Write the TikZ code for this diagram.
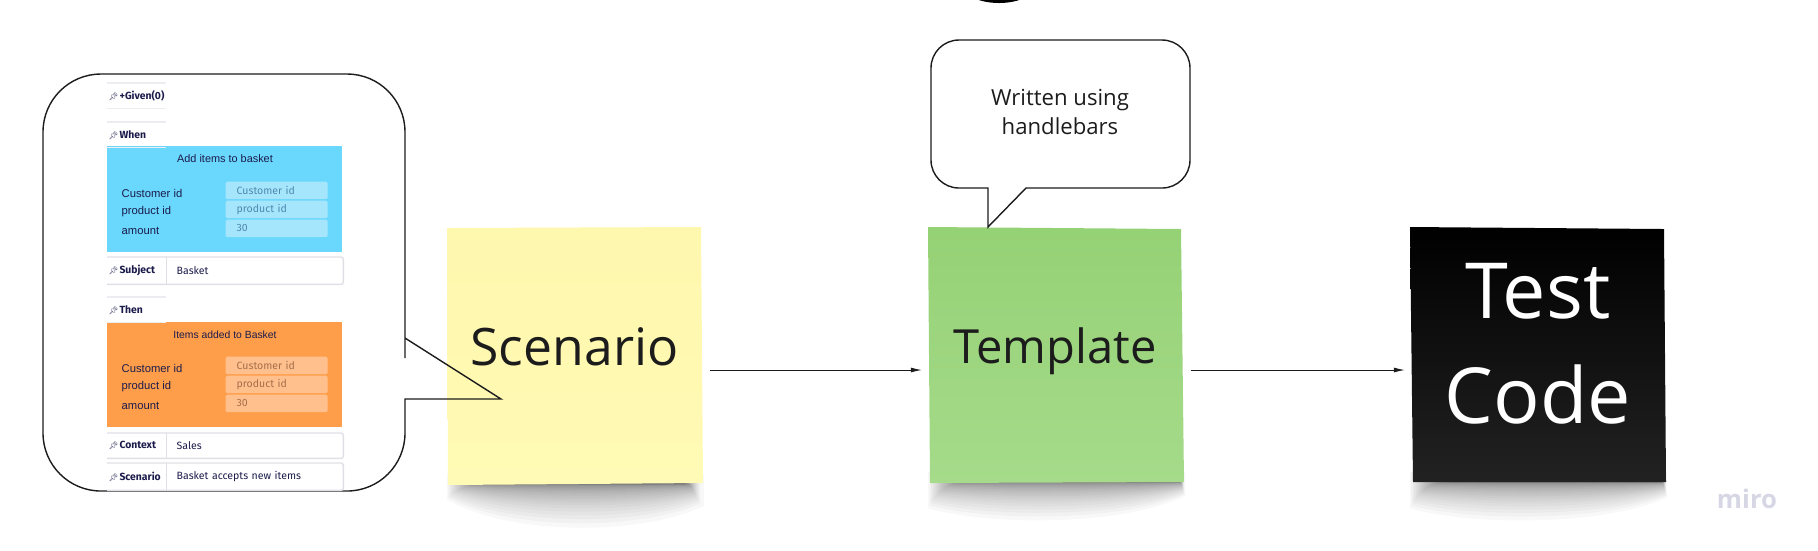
\documentclass[tikz,border=0pt]{standalone}
\usepackage{fontspec}
\usetikzlibrary{arrows.meta}
\setmainfont{Open Sans}
\newfontfamily\panelfont{Liberation Sans}
\newfontfamily\formfont{Fira Sans}
\newfontfamily\pinfont{Noto Emoji}
\definecolor{inkdark}{HTML}{1C1C1C}
\definecolor{formink}{HTML}{1B1B4B}
\definecolor{rowline}{HTML}{DFDFE6}
\definecolor{tabline}{HTML}{ECECF1}
\definecolor{whenblue}{HTML}{6AD7FD}
\definecolor{whenfield}{HTML}{A6E6FD}
\definecolor{whentext}{HTML}{4F88AE}
\definecolor{thenorange}{HTML}{FF9E4A}
\definecolor{thenfield}{HTML}{FFC08E}
\definecolor{thentext}{HTML}{A66E48}
\definecolor{mirogray}{HTML}{D6D6E4}
\definecolor{yellowtop}{HTML}{FEF7AE}
\definecolor{yellowend}{HTML}{FFFAB5}
\definecolor{greentop}{HTML}{95D175}
\definecolor{greenend}{HTML}{A5DB8A}
\definecolor{blackend}{HTML}{222222}
\newcommand{\pinmark}{{\pinfont\fontsize{2.2}{3}\selectfont 📌}\hspace{.01cm}}
% outer left, outer right, core left, core right, top, depth, left part, right part
\newcommand{\notedrop}[8]{%
  \foreach \i in {0,...,29}{%
    \pgfmathsetmacro{\lx}{#1+(#3-#1)*(\i/29)}
    \pgfmathsetmacro{\rx}{#2+(#4-#2)*sqrt(\i/29)}
    \pgfmathsetmacro{\dd}{#6*(1-\i/30)^3.2}
    \pgfmathsetmacro{\wd}{.25*(\rx-\lx)}
    \fill[black,opacity=.027] (\lx,#5-.1) -- (\rx,#5-.1) -- (\rx,#5+#8*\dd) .. controls (\rx-\wd,#5+\dd) and (\lx+\wd,#5+\dd) .. (\lx,#5+#7*\dd) -- cycle;
  }}
\tikzset{
  bigtext/.style={text=inkdark,inner sep=0pt,anchor=base,minimum width=2.7cm,font=\fontsize{14.7}{17}\selectfont},
  flow/.style={draw=inkdark,line width=.25pt,shorten >=-.025cm,-{Latex[length=.11cm,width=.05cm]}},
  bubbleline/.style={draw=inkdark,line width=.4pt},
  tabbox/.style={anchor=north west,minimum width=.58cm,inner sep=.01cm,text width=.56cm,align=left,text=formink,font=\formfont\bfseries\fontsize{2.95}{3.6}\selectfont},
  valuebox/.style={anchor=north west,minimum width=1.77cm,inner xsep=.11cm,inner ysep=0pt,text width=1.55cm,align=left,text=formink,font=\formfont\fontsize{3}{3.6}\selectfont},
  tabedge/.style={draw=tabline,line width=.35pt},
  rowedge/.style={draw=rowline,line width=.4pt,rounded corners=.025cm},
  paneltitle/.style={inner sep=0pt,text=formink,font=\panelfont\fontsize{3.1}{3.6}\selectfont},
  panellabel/.style={inner sep=0pt,anchor=west,text=formink,font=\panelfont\fontsize{3.2}{3.6}\selectfont},
  fieldbox/.style={rounded corners=.015cm,anchor=north west,minimum width=1.02cm,minimum height=.175cm,inner xsep=.11cm,inner ysep=0pt,text width=.8cm,align=left,font=\formfont\fontsize{3}{3.6}\selectfont},
  whenf/.style={fieldbox,fill=whenfield,text=whentext},
  thenf/.style={fieldbox,fill=thenfield,text=thentext},
}
\begin{document}
\begin{tikzpicture}[x=1cm,y=-1cm]
  \useasboundingbox (0,0) rectangle (18.18,5.5);
  \fill[black] (9.99,-.25) ellipse (.45 and .28);
  % Shadows and sticky notes
  \notedrop{4.47}{7.04}{4.90}{6.85}{4.84}{.52}{.3}{.42}
  \notedrop{9.28}{11.85}{9.73}{11.80}{4.82}{.44}{.6}{.32}
  \notedrop{14.10}{16.67}{14.53}{16.62}{4.82}{.44}{.6}{.35}
  \shade[top color=yellowtop,bottom color=yellowend] (4.47,2.28) -- (7.01,2.27) -- (7.03,4.83) -- (4.48,4.85) -- cycle;
  \shade[top color=greentop,bottom color=greenend] (9.28,2.27) -- (11.81,2.29) -- (11.84,4.82) -- (9.30,4.83) -- cycle;
  \shade[top color=black,middle color=black!95!white,bottom color=blackend] (14.10,2.27) -- (16.64,2.29) -- (16.66,4.82) -- (14.13,4.82) -- cycle;
  \node[bigtext] (scenario) at (5.745,3.65) {Scenario};
  \node[bigtext,font=\fontsize{13.4}{17}\selectfont] (template) at (10.55,3.63) {Template};
  \node[bigtext,anchor=center,align=center,text=white,font=\fontsize{22}{29.9}\selectfont] (testcode) at (15.38,3.44) {Test\\Code};
  \coordinate (flowlevel) at (0,3.70);
  \draw[flow] (scenario.east |- flowlevel) -- (template.west |- flowlevel);
  \draw[flow] (template.east |- flowlevel) -- (testcode.west |- flowlevel);
  % Callouts
  \draw[bubbleline,rounded corners=.58cm] (2.2,.74) -- (4.05,.74) -- (4.05,3.0) [sharp corners] -- (4.05,3.38) -- (5.01,3.99) -- (4.05,3.99) -- (4.05,4.3) [rounded corners=.58cm] -- (4.05,4.91) -- (.43,4.91) -- (.43,.74) -- cycle;
  \draw[bubbleline,rounded corners=.28cm] (10.6,.40) -- (11.90,.40) -- (11.90,1.88) [sharp corners] -- (10.26,1.88) -- (9.88,2.27) -- (9.88,1.88) [rounded corners=.28cm] -- (9.31,1.88) -- (9.31,.40) -- cycle;
  \node[text=inkdark,inner sep=0pt,align=center,font=\fontsize{6.3}{8.5}\selectfont] (written) at (10.6,1.12) {Written using\\handlebars};
  % Left-hand side part, the form
  \node[tabbox,minimum height=.24cm] (given) at (1.07,.83) {\pinmark+Given(0)};
  \node[tabbox,minimum height=.24cm] (when) at (1.07,1.22) {\pinmark When};
  \fill[whenblue] (1.07,1.46) rectangle (3.42,2.52);
  \node[paneltitle] (whentitle) at (2.25,1.59) {Add items to basket};
  \node[panellabel] (whencustomer) at (1.21,1.93) {Customer id};
  \node[panellabel] (whenproduct) at (1.21,2.12) {product id};
  \node[panellabel] (whenamount) at (1.21,2.31) {amount};
  \node[whenf] (whenfa) at (2.25,1.81) {Customer id};
  \node[whenf] (whenfb) at (2.25,2.00) {product id};
  \node[whenf] (whenfc) at (2.25,2.19) {30};
  \node[tabbox,minimum height=.26cm] (subject) at (1.07,2.57) {\pinmark Subject};
  \node[valuebox,minimum height=.26cm] (subjectval) at (1.65,2.57) {Basket};
  \node[tabbox,minimum height=.24cm] (then) at (1.07,2.97) {\pinmark Then};
  \fill[thenorange] (1.07,3.22) rectangle (3.42,4.27);
  \node[paneltitle,font=\panelfont\fontsize{2.95}{3.6}\selectfont] (thentitle) at (2.25,3.35) {Items added to Basket};
  \node[panellabel] (thencustomer) at (1.21,3.68) {Customer id};
  \node[panellabel] (thenproduct) at (1.21,3.87) {product id};
  \node[panellabel] (thenamount) at (1.21,4.06) {amount};
  \node[thenf] (thenfa) at (2.25,3.56) {Customer id};
  \node[thenf] (thenfb) at (2.25,3.75) {product id};
  \node[thenf] (thenfc) at (2.25,3.94) {30};
  \node[tabbox,minimum height=.24cm] (context) at (1.07,4.33) {\pinmark Context};
  \node[valuebox,minimum height=.24cm] (contextval) at (1.65,4.33) {Sales};
  \node[tabbox,minimum height=.26cm] (scenariotab) at (1.07,4.63) {\pinmark Scenario};
  \node[valuebox,minimum height=.26cm] (scenarioval) at (1.65,4.63) {Basket accepts new items};
  \foreach \tab in {given,when,then}{
    \draw[tabedge] (\tab.north west) -- (\tab.north east);
    \draw[tabedge] (\tab.south west) -- (\tab.south east);
  }
  \foreach \tab/\val in {subject/subjectval,context/contextval,scenariotab/scenarioval}{
    \draw[rowedge] (\tab.north west) -- (\val.north east) -- (\val.south east) -- (\tab.south west);
    \draw[rowedge] (\tab.north east) -- (\tab.south east);
  }
  \node[text=mirogray,inner sep=0pt,font=\bfseries\fontsize{7.3}{8}\selectfont] (miro) at (17.47,4.99) {miro};
\end{tikzpicture}
\end{document}
